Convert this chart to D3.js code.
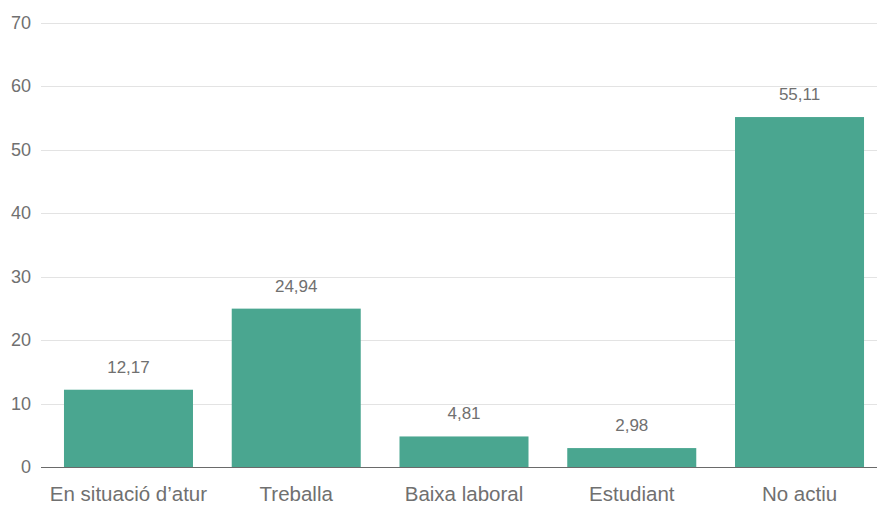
<!DOCTYPE html>
<html>
<head>
<meta charset="utf-8">
<script src="https://cdn.jsdelivr.net/npm/d3@7"></script>
<style>
  html, body { margin: 0; padding: 0; background: #fff; }
  svg text { font-family: "Liberation Sans", "Helvetica Neue", Arial, sans-serif; }
</style>
</head>
<body>
<svg id="chart" width="877" height="505"></svg>
<script>
const categories = ["En situació d’atur", "Treballa", "Baixa laboral", "Estudiant", "No actiu"];
const values = [12.17, 24.94, 4.81, 2.98, 55.11];
const yTicks = [0, 10, 20, 30, 40, 50, 60, 70];

const svg = d3.select("#chart");
const gridLeft = 41, gridRight = 877;
const yTop = 22.5, yBottom = 467;

const y = d3.scaleLinear().domain([0, 70]).range([yBottom, yTop]);
const x = d3.scaleBand().domain(categories).range([44.6, 883.4])
  .paddingInner(0.231).paddingOuter(0.1155);

const fmt = v => d3.format(".2f")(v).replace(".", ",");

// horizontal gridlines
svg.append("g").selectAll("line")
  .data(yTicks.filter(t => t > 0))
  .join("line")
  .attr("x1", gridLeft).attr("x2", gridRight)
  .attr("y1", d => Math.round(y(d)) + 0.5).attr("y2", d => Math.round(y(d)) + 0.5)
  .attr("stroke", "#e3e3e3").attr("stroke-width", 1);

// y tick labels
svg.append("g").selectAll("text")
  .data(yTicks)
  .join("text")
  .attr("x", 31).attr("y", d => y(d))
  .attr("dy", "0.35em")
  .attr("text-anchor", "end")
  .attr("font-size", 18)
  .attr("fill", "#707070")
  .text(d => d);

// bars
svg.append("g").selectAll("rect")
  .data(values)
  .join("rect")
  .attr("x", (d, i) => x(categories[i]))
  .attr("width", x.bandwidth())
  .attr("y", d => y(d))
  .attr("height", d => y(0) - y(d))
  .attr("fill", "#4aa690");

// baseline
svg.append("line")
  .attr("x1", gridLeft).attr("x2", gridRight)
  .attr("y1", Math.round(y(0)) + 0.5).attr("y2", Math.round(y(0)) + 0.5)
  .attr("stroke", "#6a6a6a").attr("stroke-width", 1.2);

// value labels
svg.append("g").selectAll("text")
  .data(values)
  .join("text")
  .attr("x", (d, i) => x(categories[i]) + x.bandwidth() / 2)
  .attr("y", d => y(d) - 17)
  .attr("text-anchor", "middle")
  .attr("font-size", 17)
  .attr("fill", "#707070")
  .text(d => fmt(d));

// category labels
svg.append("g").selectAll("text")
  .data(categories)
  .join("text")
  .attr("x", d => x(d) + x.bandwidth() / 2)
  .attr("y", 501)
  .attr("text-anchor", "middle")
  .attr("font-size", 20.5)
  .attr("fill", "#707070")
  .text(d => d);
</script>
</body>
</html>
